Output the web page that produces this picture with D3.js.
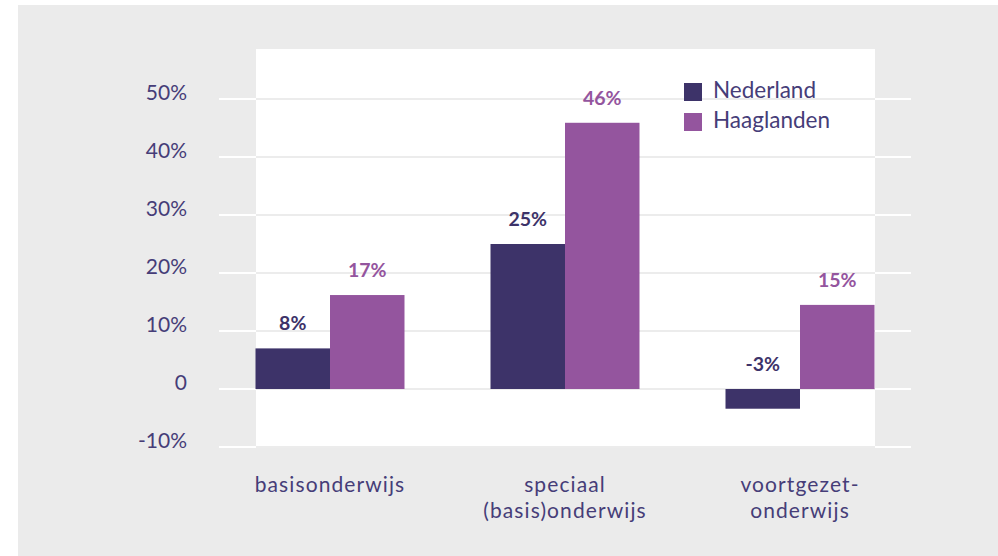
<!DOCTYPE html>
<html><head><meta charset="utf-8">
<script src="https://cdn.jsdelivr.net/npm/d3@7"></script>
<style>
html,body{margin:0;padding:0;background:#fff;}
svg{display:block;font-family:Lato,"Open Sans",sans-serif;}
</style></head>
<body>
<svg id="chart" width="998" height="556"></svg>
<script>
const categories = [["basisonderwijs"], ["speciaal", "(basis)onderwijs"], ["voortgezet-", "onderwijs"]];
const seriesNames = ["Nederland", "Haaglanden"];
const nederland = [7.0, 25.0, -3.4];
const haaglanden = [16.2, 45.9, 14.5];
const nederlandLabels = ["8%", "25%", "-3%"];
const haaglandenLabels = ["17%", "46%", "15%"];
const yTicks = [-10, 0, 10, 20, 30, 40, 50];
const yTickLabels = ["-10%", "0", "10%", "20%", "30%", "40%", "50%"];
const colors = ["#3d3369", "#94559e"];
const textColor = "#463d78";

const svg = d3.select("#chart");
const catKeys = categories.map(c => c.join(" "));
const series = [nederland, haaglanden];
const labels = [nederlandLabels, haaglandenLabels];

// background
svg.append("rect").attr("x", 18).attr("y", 5).attr("width", 980).attr("height", 551).attr("fill", "#ebebeb");

const y = d3.scaleLinear().domain([-10, 50]).range([447, 99]);
const x0 = d3.scaleBand().domain(catKeys).range([212.5, 917.5]).paddingInner(0.366).paddingOuter(0.183);
const x1 = d3.scaleBand().domain(seriesNames).range([0, x0.bandwidth()]);

// white gridlines across full width
svg.append("g").selectAll("line").data(yTicks).join("line")
  .attr("x1", 219).attr("x2", 911)
  .attr("y1", d => y(d)).attr("y2", d => y(d))
  .attr("stroke", "#ffffff").attr("stroke-width", 2);

// plot area
svg.append("rect").attr("x", 256).attr("y", 49).attr("width", 619).attr("height", y(-10) - 49 - 1).attr("fill", "#ffffff");

// light gridlines inside plot area
svg.append("g").selectAll("line").data(yTicks).join("line")
  .attr("x1", 256).attr("x2", 875)
  .attr("y1", d => y(d)).attr("y2", d => y(d))
  .attr("stroke", "#ececec").attr("stroke-width", 2);

// y axis labels
const yAxis = d3.axisLeft(y).tickValues(yTicks).tickSize(0).tickPadding(0)
  .tickFormat((d, i) => yTickLabels[i]);
const ya = svg.append("g").attr("transform", "translate(187,0)").call(yAxis);
ya.select(".domain").remove();
ya.selectAll("text").attr("fill", textColor).attr("font-size", 21).attr("font-family", "Lato, sans-serif")
  .attr("y", 0).attr("dy", "0");

// bars
const groups = svg.append("g").selectAll("g").data(catKeys).join("g")
  .attr("transform", d => `translate(${x0(d)},0)`);
groups.selectAll("rect").data((d, i) => seriesNames.map((s, j) => ({s, v: series[j][i], j, i})))
  .join("rect")
  .attr("x", d => x1(d.s))
  .attr("width", x1.bandwidth())
  .attr("y", d => y(Math.max(0, d.v)))
  .attr("height", d => Math.abs(y(d.v) - y(0)))
  .attr("fill", d => colors[d.j]);
groups.selectAll("text").data((d, i) => seriesNames.map((s, j) => ({s, v: series[j][i], j, i})))
  .join("text")
  .attr("x", d => x1(d.s) + x1.bandwidth() / 2)
  .attr("y", d => y(Math.max(0, d.v)) - 18)
  .attr("text-anchor", "middle")
  .attr("font-size", 19.5).attr("font-weight", 700)
  .attr("fill", d => colors[d.j])
  .text(d => labels[d.j][d.i]);

// x axis labels
const xAxis = d3.axisBottom(x0).tickSize(0).tickFormat(() => "");
const xa = svg.append("g").attr("transform", "translate(0,447)").call(xAxis);
xa.select(".domain").remove();
xa.selectAll(".tick").each(function(d, i) {
  const t = d3.select(this).append("text")
    .attr("text-anchor", "middle").attr("fill", textColor)
    .attr("font-size", 21).attr("letter-spacing", 1.1).attr("font-family", "Lato, sans-serif");
  categories[i].forEach((line, k) => {
    t.append("tspan").attr("x", 0).attr("y", 45 + k * 26).text(line);
  });
});

// legend
const legend = svg.append("g").attr("transform", "translate(684,83)");
const li = legend.selectAll("g").data(seriesNames).join("g")
  .attr("transform", (d, i) => `translate(0,${i * 30})`);
li.append("rect").attr("width", 18).attr("height", 18).attr("fill", (d, i) => colors[i]);
li.append("text").attr("x", 29).attr("y", 15).attr("font-size", 22.5)
  .attr("fill", textColor).text(d => d);
</script>
</body></html>
